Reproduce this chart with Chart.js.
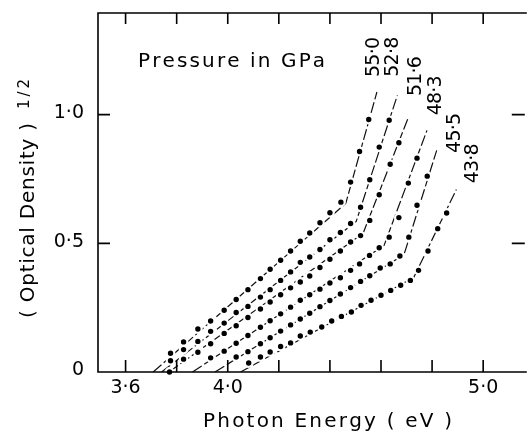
<!DOCTYPE html>
<html>
<head>
<meta charset="utf-8">
<script src="https://cdn.jsdelivr.net/npm/chart.js@4.4.0/dist/chart.umd.min.js"></script>
<style>
  html, body { margin: 0; padding: 0; background: #fff; overflow: hidden; }
  canvas { display: block; }
</style>
</head>
<body>
<canvas id="chart" width="531" height="436"></canvas>
<script>
// pressure labels (GPa), one curve each
const pressures = ["55·0", "52·8", "51·6", "48·3", "45·5", "43·8"];

// measured points: photon energy (eV) and (optical density)^1/2
const energy550 = [3.776, 3.827, 3.883, 3.933, 3.986, 4.033, 4.079, 4.128, 4.166, 4.207, 4.246, 4.284, 4.321, 4.361, 4.400, 4.443, 4.481, 4.516, 4.552];
const od550 = [0.073, 0.117, 0.167, 0.198, 0.240, 0.282, 0.320, 0.363, 0.399, 0.434, 0.470, 0.508, 0.540, 0.580, 0.619, 0.660, 0.738, 0.857, 0.981];

const energy528 = [3.776, 3.827, 3.883, 3.933, 3.986, 4.033, 4.079, 4.128, 4.166, 4.207, 4.246, 4.284, 4.321, 4.361, 4.400, 4.441, 4.481, 4.520, 4.556, 4.593, 4.632];
const od528 = [0.044, 0.087, 0.119, 0.158, 0.190, 0.231, 0.255, 0.291, 0.320, 0.356, 0.389, 0.426, 0.447, 0.476, 0.514, 0.542, 0.577, 0.640, 0.747, 0.874, 0.978];

const energy516 = [3.772, 3.827, 3.883, 3.933, 3.986, 4.033, 4.079, 4.128, 4.166, 4.207, 4.246, 4.284, 4.321, 4.361, 4.400, 4.441, 4.481, 4.520, 4.556, 4.593, 4.636, 4.670];
const od516 = [0.000, 0.050, 0.077, 0.110, 0.150, 0.180, 0.212, 0.245, 0.272, 0.300, 0.327, 0.350, 0.373, 0.406, 0.438, 0.470, 0.505, 0.530, 0.589, 0.689, 0.807, 0.891];

const energy483 = [3.933, 3.986, 4.033, 4.079, 4.128, 4.166, 4.207, 4.246, 4.284, 4.321, 4.361, 4.400, 4.441, 4.481, 4.516, 4.555, 4.593, 4.632, 4.670, 4.707, 4.741];
const od483 = [0.055, 0.081, 0.112, 0.142, 0.174, 0.199, 0.226, 0.252, 0.279, 0.300, 0.322, 0.346, 0.366, 0.395, 0.420, 0.453, 0.483, 0.524, 0.600, 0.734, 0.831];

const energy455 = [4.033, 4.079, 4.128, 4.166, 4.207, 4.246, 4.284, 4.321, 4.361, 4.400, 4.441, 4.481, 4.520, 4.556, 4.597, 4.636, 4.674, 4.709, 4.741, 4.781];
const od455 = [0.058, 0.079, 0.110, 0.133, 0.159, 0.183, 0.206, 0.228, 0.254, 0.278, 0.303, 0.328, 0.352, 0.374, 0.404, 0.420, 0.451, 0.524, 0.648, 0.761];

const energy438 = [4.082, 4.128, 4.166, 4.207, 4.246, 4.284, 4.323, 4.368, 4.407, 4.445, 4.484, 4.522, 4.561, 4.600, 4.638, 4.677, 4.715, 4.747, 4.784, 4.822, 4.857];
const od438 = [0.035, 0.058, 0.078, 0.099, 0.113, 0.140, 0.155, 0.175, 0.198, 0.216, 0.233, 0.259, 0.279, 0.298, 0.317, 0.337, 0.356, 0.395, 0.470, 0.557, 0.618];

// drawn straight lines: foot on the axis, kink, upper end
const fitE550 = [3.708, 4.462, 4.584];  const fitOD550 = [0, 0.655, 1.088];
const fitE528 = [3.741, 4.503, 4.664];  const fitOD528 = [0, 0.585, 1.075];
const fitE516 = [3.770, 4.530, 4.705];  const fitOD516 = [0, 0.539, 0.984];
const fitE483 = [3.862, 4.612, 4.780];  const fitOD483 = [0, 0.492, 0.939];
const fitE455 = [3.950, 4.690, 4.818];  const fitOD455 = [0, 0.456, 0.861];
const fitE438 = [4.050, 4.728, 4.895];  const fitOD438 = [0, 0.367, 0.709];

// axes
const xTicks = [3.6, 3.8, 4.0, 4.2, 4.4, 4.6, 4.8, 5.0];
const xLabels = ["3·6", "", "4·0", "", "", "", "", "5·0"];
const yTicks = [0, 0.5, 1.0];
const yLabels = ["0", "0·5", "1·0"];

// where the pressure labels sit (energy, OD of label centre)
const labelAt = [[4.574, 1.224], [4.648, 1.225], [4.739, 1.150], [4.816, 1.075], [4.889, 0.929], [4.962, 0.811]];

const series = [
  { e: energy550, od: od550, fe: fitE550, fod: fitOD550 },
  { e: energy528, od: od528, fe: fitE528, fod: fitOD528 },
  { e: energy516, od: od516, fe: fitE516, fod: fitOD516 },
  { e: energy483, od: od483, fe: fitE483, fod: fitOD483 },
  { e: energy455, od: od455, fe: fitE455, fod: fitOD455 },
  { e: energy438, od: od438, fe: fitE438, fod: fitOD438 }
];

const FONT = '"DejaVu Sans", sans-serif';

// text centred on cx,cy and stretched to a given width by spacing the letters
function spacedText(ctx, text, cx, cy, width) {
  const chars = [...text];
  const w = chars.map(c => ctx.measureText(c).width);
  const natural = w.reduce((a, b) => a + b, 0);
  const gap = chars.length > 1 ? (width - natural) / (chars.length - 1) : 0;
  let x = cx - width / 2;
  ctx.textAlign = "left";
  chars.forEach((c, i) => { ctx.fillText(c, x, cy); x += w[i] + gap; });
}

const decor = {
  id: "decor",
  afterDatasetsDraw(chart) {
    const { ctx, chartArea: a, scales: { x, y } } = chart;
    ctx.save();
    ctx.strokeStyle = "#000";
    ctx.fillStyle = "#000";
    ctx.lineWidth = 1.6;

    // frame, right side falls off the page
    ctx.beginPath();
    ctx.moveTo(a.right + 2, a.top);
    ctx.lineTo(a.left, a.top);
    ctx.lineTo(a.left, a.bottom);
    ctx.lineTo(a.right + 2, a.bottom);
    ctx.stroke();

    // inward ticks
    ctx.beginPath();
    xTicks.forEach(v => {
      const px = x.getPixelForValue(v);
      ctx.moveTo(px, a.bottom); ctx.lineTo(px, a.bottom - 12);
      ctx.moveTo(px, a.top); ctx.lineTo(px, a.top + 11);
    });
    yTicks.forEach(v => {
      if (v === 0) return;
      const py = y.getPixelForValue(v);
      ctx.moveTo(a.left, py); ctx.lineTo(a.left + 12, py);
      ctx.moveTo(a.right, py); ctx.lineTo(a.right - 13, py);
    });
    ctx.stroke();

    // tick labels
    ctx.font = "19px " + FONT;
    ctx.textBaseline = "middle";
    ctx.textAlign = "center";
    xTicks.forEach((v, i) => {
      if (xLabels[i]) ctx.fillText(xLabels[i], x.getPixelForValue(v), 388);
    });
    ctx.textAlign = "right";
    yTicks.forEach((v, i) => {
      ctx.fillText(yLabels[i], 84, y.getPixelForValue(v) - 1.5);
    });

    // axis titles
    ctx.font = "20px " + FONT;
    spacedText(ctx, "Photon Energy ( eV )", 327.5, 422, 249);

    ctx.save();
    ctx.translate(29, 220.5);
    ctx.rotate(-Math.PI / 2);
    spacedText(ctx, "( Optical Density )", 0, 0, 195);
    ctx.restore();
    ctx.save();
    ctx.translate(25, 94);
    ctx.rotate(-Math.PI / 2);
    ctx.font = "15px " + FONT;
    spacedText(ctx, "1/2", 0, 0, 30);
    ctx.restore();

    // legend note and curve labels
    ctx.font = "20px " + FONT;
    spacedText(ctx, "Pressure in GPa", 231.6, 61.5, 187);
    ctx.font = "19px " + FONT;
    pressures.forEach((p, i) => {
      ctx.save();
      ctx.translate(x.getPixelForValue(labelAt[i][0]), y.getPixelForValue(labelAt[i][1]));
      ctx.rotate(-Math.PI / 2);
      spacedText(ctx, p, 0, 0, 40);
      ctx.restore();
    });
    ctx.restore();
  }
};

const datasets = [];
series.forEach((s, i) => {
  datasets.push({
    label: pressures[i] + " line",
    data: s.fe.map((v, k) => ({ x: v, y: s.fod[k] })),
    showLine: true,
    borderColor: "#111",
    borderWidth: 1.2,
    borderDash: [11, 3],
    pointRadius: 0,
    tension: 0,
    order: 2
  });
  datasets.push({
    label: pressures[i],
    data: s.e.map((v, k) => ({ x: v, y: s.od[k] })),
    showLine: false,
    pointRadius: 3.8,
    pointBackgroundColor: "#000",
    pointBorderColor: "#fff",
    pointBorderWidth: 2.2,
    clip: false,
    order: 1
  });
});

new Chart(document.getElementById("chart"), {
  type: "scatter",
  data: { datasets },
  options: {
    responsive: false,
    animation: false,
    events: [],
    layout: { padding: { left: 98, top: 13, right: 0, bottom: 64 } },
    plugins: { legend: { display: false }, tooltip: { enabled: false } },
    scales: {
      x: { type: "linear", min: 3.492, max: 5.163, display: false },
      y: { type: "linear", min: 0, max: 1.395, display: false }
    }
  },
  plugins: [decor]
});
</script>
</body>
</html>
